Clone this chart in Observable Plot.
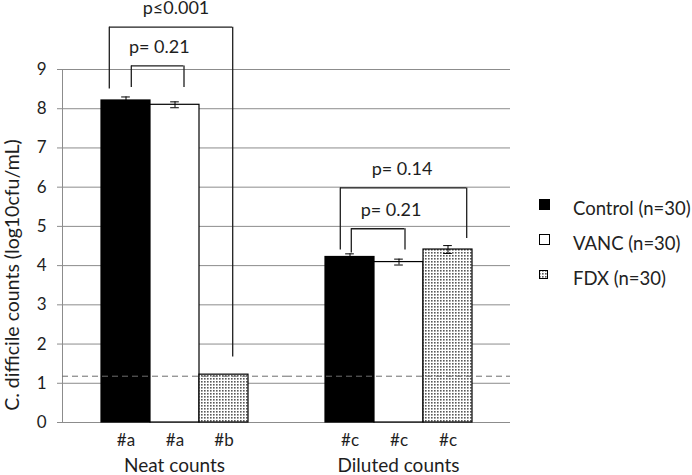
<!DOCTYPE html>
<html><head><meta charset="utf-8">
<script src="https://cdn.jsdelivr.net/npm/d3@7"></script>
<script src="https://cdn.jsdelivr.net/npm/@observablehq/plot@0.6"></script>
<style>
body{margin:0;background:#fff;}
#wrap{position:relative;width:692px;height:475px;font-family:Lato,sans-serif;color:#222;overflow:hidden;}
#legend{position:absolute;left:539px;top:190px;font-size:18.5px;white-space:nowrap;}
.row{display:flex;align-items:center;height:35px;}
.sw{width:34px;display:flex;align-items:center;}
.sw svg{display:block;position:relative;top:-3px;}
</style></head><body><div id="wrap"></div>
<script>
// ---- data ----
const groups = ["Neat counts", "Diluted counts"];
const series = ["Control", "VANC", "FDX"];
const seriesLabels = ["Control (n=30)", "VANC (n=30)", "FDX (n=30)"];
const neatMeans = [8.21, 8.10, 1.22];
const dilutedMeans = [4.22, 4.09, 4.41];
const neatErrors = [0.09, 0.075, null];
const dilutedErrors = [0.08, 0.075, 0.1];
const neatLetters = ["#a", "#a", "#b"];
const dilutedLetters = ["#c", "#c", "#c"];
const detectionLimit = 1.18;
const yTicks = [0, 1, 2, 3, 4, 5, 6, 7, 8, 9];
const yLabel = "C. difficile counts (log10cfu/mL)";
const bracketLabels = ["p≤0.001", "p= 0.21", "p= 0.14", "p= 0.21"];
const bracketGroups = ["Neat counts", "Neat counts", "Diluted counts", "Diluted counts"];
const bracketFrom = ["Control", "Control", "Control", "Control"];
const bracketTo = ["FDX", "VANC", "FDX", "VANC"];
const bracketTop = [10.08, 9.09, 5.98, 4.94];
const bracketLeftEnd = [8.5, 8.54, 4.40, 4.32];
const bracketRightEnd = [1.67, 8.54, 4.69, 4.40];

// ---- table ----
const means = [neatMeans, dilutedMeans], errs = [neatErrors, dilutedErrors], letters = [neatLetters, dilutedLetters];
const rows = [];
groups.forEach((g, gi) => series.forEach((s, si) => rows.push({
  group: g, series: s, mean: means[gi][si], err: errs[gi][si], letter: letters[gi][si]
})));
const errRows = rows.filter(d => d.err != null);
const brackets = bracketLabels.map((label, i) => ({
  label, group: bracketGroups[i], from: bracketFrom[i], to: bracketTo[i],
  top: bracketTop[i], left: bracketLeftEnd[i], right: bracketRightEnd[i]
}));

// ---- styles ----
const W = 692, H = 475, mL = 62, mR = 182, mT = 69, mB = 53;
const padOuter = 0.77;
const facetW = (W - mL - mR) / groups.length;
const bw = facetW / (series.length + 2 * padOuter);
const fills = {Control: "#000", VANC: "#fff", FDX: "url(#fdxdots)"};
const bracketStyle = [
  {l: -16.7, r: 8.7, tx: "VANC", tdx: 1},
  {l: 5.3, r: 9, tx: "Control", tdx: 33.3},
  {l: -9.7, r: 18.7, tx: "VANC", tdx: 3},
  {l: 1.3, r: 6, tx: "VANC", tdx: -8}
];
const ink = "#1e1e1e", gridC = "#8c8c8c";

const bracketMarks = brackets.flatMap((b, i) => {
  const st = bracketStyle[i];
  const common = {fx: "group", stroke: ink, strokeWidth: 1.3};
  return [
    Plot.ruleX([b], {...common, x: "from", y1: "left", y2: "top", dx: st.l}),
    Plot.ruleX([b], {...common, x: "to", y1: "right", y2: "top", dx: st.r}),
    Plot.ruleY([b], {...common, x1: "from", x2: "to", y: "top",
      insetLeft: bw / 2 + st.l, insetRight: bw / 2 - st.r}),
    Plot.text([b], {fx: "group", x: () => st.tx, y: "top", text: "label", dx: st.tdx, dy: -19,
      fontSize: 18, fill: ink, lineAnchor: "middle"})
  ];
});

const chart = Plot.plot({
  width: W, height: H,
  marginLeft: mL, marginRight: mR, marginTop: mT, marginBottom: mB,
  style: {fontFamily: "Lato, sans-serif", fontSize: "16px", color: ink, background: "#fff"},
  fx: {domain: groups, padding: 0},
  x: {domain: series, paddingInner: 0, paddingOuter: padOuter, axis: null},
  y: {domain: [0, 9]},
  color: {type: "identity"},
  marks: [
    Plot.gridY({ticks: yTicks, stroke: gridC, strokeOpacity: 1}),
    Plot.axisY({ticks: yTicks, tickSize: 5, tickPadding: 11, stroke: gridC, fill: ink, fontSize: 17, label: null}),
    Plot.frame({anchor: "left", stroke: gridC, facetAnchor: "left"}),
    Plot.barY(rows, {fx: "group", x: "series", y: "mean", fill: d => fills[d.series], stroke: "#000", strokeWidth: 1.2}),
    Plot.ruleY([detectionLimit], {stroke: "#6e6e6e", strokeDasharray: "6,4"}),
    Plot.ruleX(errRows, {fx: "group", x: "series", y1: d => d.mean - d.err, y2: d => d.mean + d.err, stroke: "#000"}),
    Plot.tickY(errRows, {fx: "group", x: "series", y: d => d.mean + d.err, inset: (bw - 9) / 2, stroke: "#000"}),
    Plot.tickY(errRows, {fx: "group", x: "series", y: d => d.mean - d.err, inset: (bw - 9) / 2, stroke: "#000"}),
    Plot.text(rows, {fx: "group", x: "series", y: 0, text: "letter", dy: 18, fontSize: 17, fill: ink, lineAnchor: "middle"}),
    Plot.axisFx({anchor: "bottom", tickSize: 0, tickPadding: 36, fontSize: 19, label: null, fill: ink}),
    Plot.text([yLabel], {fx: () => groups[0], frameAnchor: "left", textAnchor: "middle", lineAnchor: "middle",
      rotate: -90, dx: -50, dy: 29, fontSize: 19.5, fill: ink}),
    ...bracketMarks
  ]
});

d3.select(chart).insert("defs", ":first-child").html(
  '<pattern id="fdxdots" width="3" height="3" patternUnits="userSpaceOnUse">' +
  '<rect width="3" height="3" fill="#fff"/><rect width="1.6" height="1.6" fill="#5a5a5a"/></pattern>');

const wrap = document.getElementById("wrap");
wrap.appendChild(chart);

// ---- legend ----
const swatch = {
  Control: '<svg width="11" height="11"><rect x="0.5" y="0.5" width="10" height="10" fill="#000" stroke="#000"/></svg>',
  VANC: '<svg width="11" height="11"><rect x="0.5" y="0.5" width="10" height="10" fill="#fff" stroke="#000"/></svg>',
  FDX: '<svg width="9" height="9"><defs><pattern id="fdxdots2" width="3" height="3" patternUnits="userSpaceOnUse"><rect width="3" height="3" fill="#fff"/><rect width="1.6" height="1.6" fill="#5a5a5a"/></pattern></defs><rect x="0.5" y="0.5" width="8" height="8" fill="url(#fdxdots2)" stroke="#000"/></svg>'
};
const legend = document.createElement("div");
legend.id = "legend";
legend.innerHTML = series.map((s, i) =>
  `<div class="row"><span class="sw">${swatch[s]}</span><span>${seriesLabels[i]}</span></div>`).join("");
wrap.appendChild(legend);
</script>
</body></html>
